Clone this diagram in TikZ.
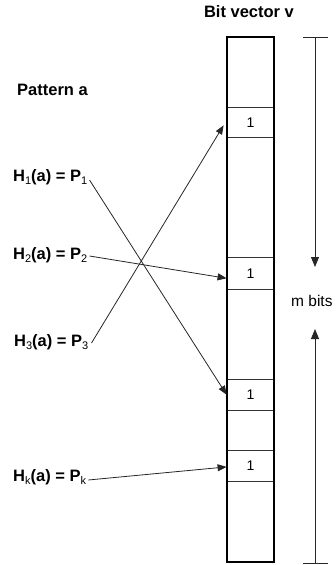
\documentclass[tikz,border=0pt]{standalone}
\usepackage{fontspec}
\setmainfont{Liberation Sans}
\usetikzlibrary{arrows.meta,calc}
\tikzset{
  lbl/.style={font=\fontsize{16.5}{18}\selectfont\bfseries, inner sep=0pt, anchor=west},
  cell/.style={draw=black!80, line width=0.8pt, minimum width=47pt, inner sep=0pt, font=\fontsize{14}{16}\selectfont},
  ptr/.style={draw=black!85, line width=0.8pt, -{Triangle[length=9pt,width=7pt]}},
  dim/.style={draw=black!85, line width=0.8pt},
}
\newcommand{\sbx}[1]{\raisebox{-3.5pt}{\normalfont\fontsize{11}{11}\selectfont #1}}
\begin{document}
\begin{tikzpicture}[x=1pt,y=-1pt]
\useasboundingbox (0,0) rectangle (336,565);
% title labels
\node[lbl, anchor=center] (title) at (249,12) {Bit vector v};
\node[lbl] (pat) at (17,90) {Pattern a};
% hash labels
\node[lbl] (h1) at (13,177) {H\sbx{1}(a) = P\sbx{1}};
\node[lbl] (h2) at (13,255) {H\sbx{2}(a) = P\sbx{2}};
\node[lbl] (h3) at (14,342) {H\sbx{3}(a) = P\sbx{3}};
\node[lbl] (hk) at (13,477) {H\sbx{k}(a) = P\sbx{k}};
% cells
\node[cell, minimum height=30pt] (c1) at (250.5,122.3) {1};
\node[cell, minimum height=31.3pt] (c2) at (250.5,273.3) {1};
\node[cell, minimum height=30.7pt] (c3) at (250.5,394.7) {1};
\node[cell, minimum height=31.7pt] (c4) at (250.5,465.9) {1};
% outer vector
\node[draw, line width=2pt, minimum width=47pt, minimum height=525pt, inner sep=0pt] (vec) at (250.5,299.5) {};
% pointers
\draw[ptr] ($(h1.east)+(2,3)$) -- (c3.west);
\draw[ptr] ($(h2.east)+(2,1)$) -- ($(c2.west)+(0,5)$);
\draw[ptr] ($(h3.east)+(3,1)$) -- ($(c1.west)+(-3,3)$);
\draw[ptr] ($(hk.east)+(2,3)$) -- ($(c4.west)+(0,1)$);
% dimension
\coordinate (dt) at (315,37);
\coordinate (db) at (315,563);
\coordinate (ad) at (315,267);
\coordinate (au) at (315,329);
\draw[dim] ($(dt)+(-12,0)$) -- ($(dt)+(13,0)$);
\draw[dim] ($(db)+(-12,0)$) -- ($(db)+(13,0)$);
\draw[dim, -{Triangle[length=10pt,width=8pt]}] (dt) -- (ad);
\draw[dim, -{Triangle[length=10pt,width=8pt]}] (db) -- (au);
\node[font=\fontsize{15.5}{17}\selectfont, inner sep=0pt, anchor=west] (mb) at (291,301) {m bits};
\end{tikzpicture}
\end{document}
